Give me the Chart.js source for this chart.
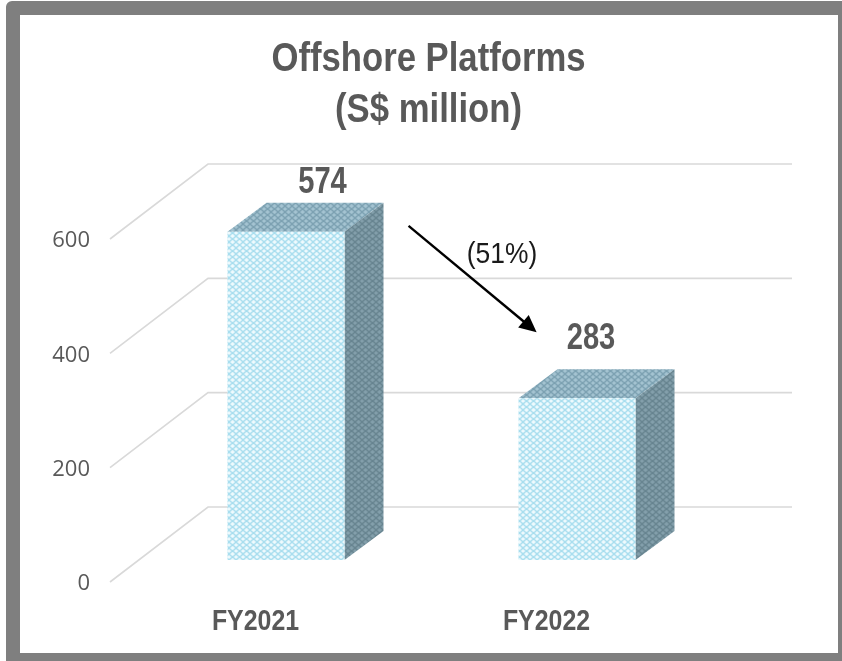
<!DOCTYPE html>
<html>
<head>
<meta charset="utf-8">
<title>Offshore Platforms</title>
<script src="https://cdn.jsdelivr.net/npm/chart.js@4"></script>
<style>
  html, body { margin: 0; background: #fff; overflow: hidden; }
  #frame {
    position: absolute; left: 6px; top: 1px; width: 818px; height: 638px;
    border: solid #7f7f7f; border-width: 14px 14px 8px 14px; border-radius: 6px 0 0 0;
    background: #fff;
  }
  canvas { display: block; }
</style>
</head>
<body>
<div id="frame"><canvas id="chart" width="818" height="638"></canvas></div>
<script>
var categories = ['FY2021', 'FY2022'];
var revenue = [574, 283];
var yTicks = [0, 200, 400, 600];
var titleLines = ['Offshore Platforms', '(S$ million)'];
var changeLabel = '(51%)';
// arrow and its label, in axis units (category index, S$ million)
var arrowFrom = [0.526, 623];
var arrowTo = [0.966, 437];
var changeAt = [0.847, 558];

var GREY = '#595959';
var barShift = [30.5, -22];   // bars stand this far back from the axis plane
var barDepth = [39, -29];     // depth of the box itself
var wallDepth = [98, -75];    // floor depth to the back wall
var wallEnd = 772;            // right end of the back wall, canvas px
var labelShift = [[36.5, -39], [14, -49]];

function lattice(bg, line) {
  var c = document.createElement('canvas');
  c.width = 7; c.height = 6;
  var g = c.getContext('2d');
  g.fillStyle = bg;
  g.fillRect(0, 0, 7, 6);
  g.strokeStyle = line;
  g.lineWidth = 1.4;
  g.beginPath();
  g.moveTo(-1, -1); g.lineTo(8, 7);
  g.moveTo(8, -1); g.lineTo(-1, 7);
  g.stroke();
  return g.createPattern(c, 'repeat');
}

var frontFill = lattice('#f0fbfe', '#a4dcee');
var topFill = lattice('#a5c4d2', '#7a9fb0');
var sideFill = lattice('#84a0ac', '#66838f');

// the reference type is narrower than Liberation Sans, so squeeze it sideways
function squeezed(ctx, text, x, y, font, sx) {
  ctx.save();
  ctx.font = font;
  ctx.textAlign = 'center';
  ctx.textBaseline = 'alphabetic';
  ctx.translate(x, y);
  ctx.scale(sx, 1);
  ctx.fillText(text, 0, 0);
  ctx.restore();
}

var box3d = {
  id: 'box3d',
  beforeDatasetsDraw: function (chart) {
    var ctx = chart.ctx, y = chart.scales.y, x = chart.scales.x;
    // back wall and floor lines
    ctx.save();
    ctx.strokeStyle = '#d9d9d9';
    ctx.lineWidth = 1.6;
    yTicks.forEach(function (v) {
      var py = y.getPixelForValue(v);
      ctx.beginPath();
      ctx.moveTo(x.left, py);
      ctx.lineTo(x.left + wallDepth[0], py + wallDepth[1]);
      ctx.lineTo(wallEnd, py + wallDepth[1]);
      ctx.stroke();
    });
    ctx.restore();
    // top and side faces
    ctx.save();
    ctx.translate(barShift[0], barShift[1]);
    chart.getDatasetMeta(0).data.forEach(function (bar) {
      var l = bar.x - bar.width / 2, r = bar.x + bar.width / 2;
      var dx = barDepth[0], dy = barDepth[1];
      ctx.fillStyle = topFill;
      ctx.beginPath();
      ctx.moveTo(l, bar.y); ctx.lineTo(l + dx, bar.y + dy);
      ctx.lineTo(r + dx, bar.y + dy); ctx.lineTo(r, bar.y);
      ctx.closePath(); ctx.fill();
      ctx.fillStyle = sideFill;
      ctx.beginPath();
      ctx.moveTo(r, bar.y); ctx.lineTo(r + dx, bar.y + dy);
      ctx.lineTo(r + dx, bar.base + dy); ctx.lineTo(r, bar.base);
      ctx.closePath(); ctx.fill();
    });
    ctx.restore();
    ctx.save();
    ctx.translate(barShift[0], barShift[1]);
  },
  afterDatasetsDraw: function (chart) {
    var ctx = chart.ctx, y = chart.scales.y, x = chart.scales.x;
    ctx.restore();
    ctx.save();
    ctx.fillStyle = GREY;
    // title
    squeezed(ctx, titleLines[0], 408.5, 56, 'bold 40px "Liberation Sans"', 0.867);
    squeezed(ctx, titleLines[1], 408.5, 107, 'bold 40px "Liberation Sans"', 0.867);
    // category labels
    categories.forEach(function (c, i) {
      squeezed(ctx, c, x.getPixelForValue(i), 615, 'bold 30px "Liberation Sans"', 0.83);
    });
    // value labels
    chart.getDatasetMeta(0).data.forEach(function (bar, i) {
      squeezed(ctx, String(revenue[i]), bar.x + barShift[0] + labelShift[i][0],
        bar.y + barShift[1] + labelShift[i][1], 'bold 36px "Liberation Sans"', 0.81);
    });
    // change arrow
    var x1 = x.getPixelForValue(arrowFrom[0]), y1 = y.getPixelForValue(arrowFrom[1]);
    var x2 = x.getPixelForValue(arrowTo[0]), y2 = y.getPixelForValue(arrowTo[1]);
    var a = Math.atan2(y2 - y1, x2 - x1), head = 19;
    ctx.strokeStyle = '#000';
    ctx.fillStyle = '#000';
    ctx.lineWidth = 2.4;
    ctx.beginPath();
    ctx.moveTo(x1, y1);
    ctx.lineTo(x2 - Math.cos(a) * head * 0.8, y2 - Math.sin(a) * head * 0.8);
    ctx.stroke();
    ctx.beginPath();
    ctx.moveTo(x2, y2);
    ctx.lineTo(x2 - Math.cos(a - 0.45) * head, y2 - Math.sin(a - 0.45) * head);
    ctx.lineTo(x2 - Math.cos(a + 0.45) * head, y2 - Math.sin(a + 0.45) * head);
    ctx.closePath();
    ctx.fill();
    ctx.fillStyle = '#1a1a1a';
    squeezed(ctx, changeLabel, x.getPixelForValue(changeAt[0]), y.getPixelForValue(changeAt[1]),
      '30px "Liberation Sans"', 0.88);
    ctx.restore();
  }
};

new Chart(document.getElementById('chart'), {
  type: 'bar',
  data: {
    labels: categories,
    datasets: [{
      data: revenue,
      backgroundColor: frontFill,
      barPercentage: 0.402,
      categoryPercentage: 1,
      clip: false
    }]
  },
  plugins: [box3d],
  options: {
    responsive: false,
    animation: false,
    layout: { padding: { top: 224, right: 146 } },
    plugins: {
      legend: { display: false },
      tooltip: { enabled: false },
      title: { display: false }
    },
    scales: {
      x: {
        grid: { display: false },
        border: { display: false },
        ticks: { display: false },
        afterFit: function (s) { s.height = 71; }
      },
      y: {
        min: 0,
        max: 600,
        afterBuildTicks: function (s) { s.ticks = yTicks.map(function (v) { return { value: v }; }); },
        grid: { display: false },
        border: { display: false },
        ticks: {
          color: GREY,
          padding: 12,
          labelOffset: 2,
          font: { family: '"Open Sans"', size: 22 }
        },
        afterFit: function (s) { s.width = 90; }
      }
    }
  }
});
</script>
</body>
</html>
